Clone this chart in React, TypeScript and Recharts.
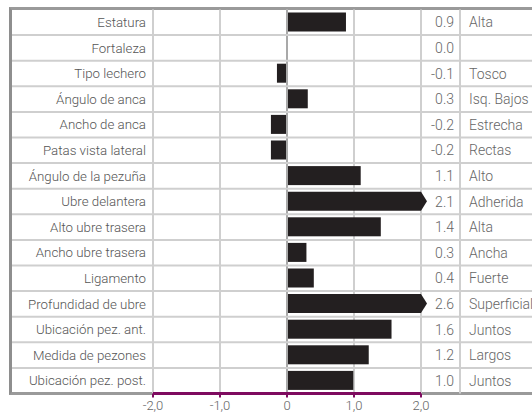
import { BarChart, Bar, XAxis, YAxis, CartesianGrid, ReferenceLine } from 'recharts';

const traits = [
  'Estatura',
  'Fortaleza',
  'Tipo lechero',
  'Ángulo de anca',
  'Ancho de anca',
  'Patas vista lateral',
  'Ángulo de la pezuña',
  'Ubre delantera',
  'Alto ubre trasera',
  'Ancho ubre trasera',
  'Ligamento',
  'Profundidad de ubre',
  'Ubicación pez. ant.',
  'Medida de pezones',
  'Ubicación pez. post.',
];
// bar lengths
const barValues = [0.88, 0, -0.15, 0.31, -0.24, -0.24, 1.1, 2.1, 1.4, 0.29, 0.4, 2.6, 1.56, 1.22, 0.99];
const valueLabels = ['0.9', '0.0', '-0.1', '0.3', '-0.2', '-0.2', '1.1', '2.1', '1.4', '0.3', '0.4', '2.6', '1.6', '1.2', '1.0'];
const descriptions = ['Alta', '', 'Tosco', 'Isq. Bajos', 'Estrecha', 'Rectas', 'Alto', 'Adherida', 'Alta', 'Ancha', 'Fuerte', 'Superficial', 'Juntos', 'Largos', 'Juntos'];
const xTicks = [-2, -1, 0, 1, 2];

const MIN = -2;
const MAX = 2;
const TOP = 9.5;
const BOTTOM = 393.5;
const ROW_H = (BOTTOM - TOP) / traits.length;
const FONT = 'Roboto, sans-serif';
const GRID = '#cfcfcf';
const PURPLE = '#7e0b5f';

const data = traits.map((name, i) => ({
  name,
  value: barValues[i],
  shown: Math.max(MIN, Math.min(MAX, barValues[i])),
  label: valueLabels[i],
  desc: descriptions[i],
}));

const ArrowBar = (props: any) => {
  const { x, y, width, height, payload } = props;
  const left = Math.min(x, x + width);
  const w = Math.abs(width);
  if (payload && payload.value > MAX) {
    const r = left + w;
    return (
      <path
        d={`M${left},${y} H${r} L${r + 6},${y + height / 2} L${r},${y + height} H${left} Z`}
        fill="#231f20"
      />
    );
  }
  return <rect x={left} y={y} width={w} height={height} fill="#231f20" />;
};

const LeftTick = (props: any) => {
  const { x, y, payload, index } = props;
  return (
    <g>
      {index < traits.length - 1 && (
        <line x1={12} x2={532} y1={y + ROW_H / 2} y2={y + ROW_H / 2} stroke={GRID} strokeWidth={2} />
      )}
      <text
        x={x}
        y={y}
        dy="0.36em"
        textAnchor="end"
        fontFamily={FONT}
        fontWeight={300}
        fontSize={13.3}
        fill="#555"
      >
        {payload.value}
      </text>
    </g>
  );
};

const RightTick = (props: any) => {
  const { x, y, index } = props;
  const row = data[index];
  return (
    <g>
      <line x1={x + 39} x2={x + 39} y1={y - ROW_H / 2} y2={y + ROW_H / 2} stroke={GRID} strokeWidth={2} />
      <text
        x={x + 33}
        y={y}
        dy="0.36em"
        textAnchor="end"
        fontFamily={FONT}
        fontWeight={300}
        fontSize={14}
        fill="#666"
      >
        {row.label}
      </text>
      <text
        x={x + 48}
        y={y}
        dy="0.36em"
        textAnchor="start"
        fontFamily={FONT}
        fontWeight={300}
        fontSize={14}
        fill="#666"
      >
        {row.desc}
      </text>
    </g>
  );
};

const fmt = (v: number) => (v === 0 ? '0' : v.toFixed(1).replace('.', ','));

const App = () => {
  return (
    <div style={{ position: 'absolute', left: 0, top: 0, width: 532, height: 416, overflow: 'hidden', background: '#fff' }}>
      <div
        style={{
          position: 'absolute',
          left: 9,
          top: 7,
          width: 523,
          height: 382,
          borderLeft: '3px solid #8e8e8e',
          borderTop: '3px solid #9a9a9a',
          borderBottom: '3px solid #9a9a9a',
        }}
      />
      <div style={{ position: 'absolute', left: 0, top: 0 }}>
        <BarChart
          width={532}
          height={416}
          data={data}
          layout="vertical"
          margin={{ top: TOP, right: 0, bottom: 0, left: 12 }}
          barSize={19}
        >
          <CartesianGrid horizontal={false} stroke={GRID} strokeWidth={2} />
          <XAxis
            type="number"
            domain={[MIN, MAX]}
            ticks={xTicks}
            tickFormatter={fmt}
            height={416 - BOTTOM}
            axisLine={{ stroke: PURPLE, strokeWidth: 3 }}
            tickLine={{ stroke: PURPLE, strokeWidth: 2 }}
            tickSize={4}
            tickMargin={3}
            tick={{ fill: '#666', fontSize: 13, fontFamily: FONT, fontWeight: 300 }}
          />
          <YAxis
            yAxisId="left"
            type="category"
            dataKey="name"
            width={141}
            axisLine={false}
            tickLine={false}
            tickSize={0}
            tickMargin={7}
            interval={0}
            tick={<LeftTick />}
          />
          <YAxis
            yAxisId="right"
            orientation="right"
            type="category"
            dataKey="name"
            width={111}
            axisLine={false}
            tickLine={false}
            tickSize={0}
            tickMargin={0}
            interval={0}
            tick={<RightTick />}
          />
          <Bar yAxisId="left" dataKey="shown" shape={<ArrowBar />} isAnimationActive={false} />
          <ReferenceLine yAxisId="left" x={0} stroke="#a9a9a9" strokeWidth={2} />
        </BarChart>
      </div>
    </div>
  );
};

export default App;
